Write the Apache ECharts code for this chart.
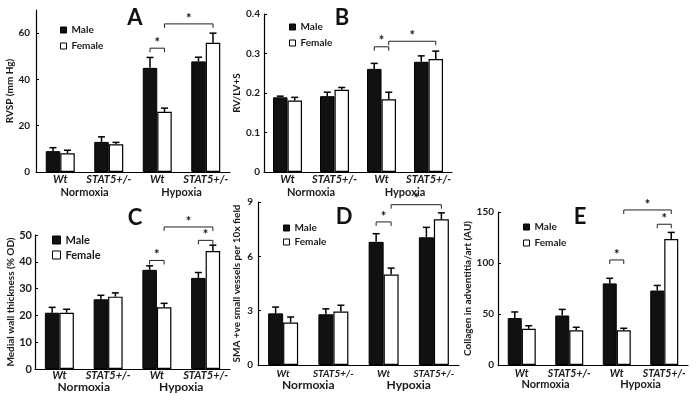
<!DOCTYPE html>
<html>
<head>
<meta charset="utf-8">
<script src="https://cdn.jsdelivr.net/npm/echarts@6/dist/echarts.min.js"></script>
<style>html,body{margin:0;padding:0;background:#fff}#c{width:699px;height:402px}</style>
</head>
<body>
<div id="c"></div>
<script>
// ---------- data ----------
const categories = ['Wt', 'STAT5+/-', 'Wt', 'STAT5+/-'];
const conditions = ['Normoxia', 'Hypoxia'];
const seriesNames = ['Male', 'Female'];
const panelLetters = ['A', 'B', 'C', 'D', 'E'];
const yTitles = ['RVSP (mm Hg)', 'RV/LV+S', 'Medial wall thickness (% OD)',
  'SMA +ve small vessels per 10x field', 'Collagen in adventitia/art (AU)'];

// A: RVSP
const maleA = [9, 13, 45, 47.8];
const maleErrA = [10.5, 15.2, 49.5, 49.6];
const femaleA = [8.1, 12, 26, 55.8];
const femaleErrA = [9.4, 12.8, 27.6, 60];
const sigA = [[2, 0, 2, 1, 53.5], [2, 1, 3, 1, 64]];

// B: RV/LV+S
const maleB = [0.189, 0.192, 0.261, 0.279];
const maleErrB = [0.192, 0.202, 0.275, 0.294];
const femaleB = [0.181, 0.208, 0.184, 0.286];
const femaleErrB = [0.189, 0.214, 0.202, 0.306];
const sigB = [[2, 0, 2, 1, 0.317], [2, 1, 3, 1, 0.331]];

// C: medial wall thickness
const maleC = [21, 26, 37, 34];
const maleErrC = [23, 27.5, 38.5, 36];
const femaleC = [21, 27, 23, 44];
const femaleErrC = [22.3, 28.4, 24.5, 46.2];
const sigC = [[2, 0, 2, 1, 40.5], [3, 0, 3, 1, 48], [2, 1, 3, 1, 53]];

// D: SMA +ve small vessels
const maleD = [2.85, 2.8, 6.8, 7.05];
const maleErrD = [3.2, 3.1, 7.25, 7.6];
const femaleD = [2.35, 2.95, 5.0, 8.05];
const femaleErrD = [2.65, 3.3, 5.35, 8.4];
const sigD = [[2, 0, 2, 1, 7.9], [2, 1, 3, 1, 8.85]];

// E: collagen
const maleE = [46, 48.5, 80, 73];
const maleErrE = [52, 54.5, 85, 78];
const femaleE = [35.5, 34, 34, 123.5];
const femaleErrE = [38.5, 37, 36, 130];
const sigE = [[2, 0, 2, 1, 103], [3, 0, 3, 1, 138], [2, 1, 3, 1, 152]];

const panelData = [
  {male: maleA, maleErr: maleErrA, female: femaleA, femaleErr: femaleErrA, sig: sigA},
  {male: maleB, maleErr: maleErrB, female: femaleB, femaleErr: femaleErrB, sig: sigB},
  {male: maleC, maleErr: maleErrC, female: femaleC, femaleErr: femaleErrC, sig: sigC},
  {male: maleD, maleErr: maleErrD, female: femaleD, femaleErr: femaleErrD, sig: sigD},
  {male: maleE, maleErr: maleErrE, female: femaleE, femaleErr: femaleErrE, sig: sigE}
];

// ---------- layout ----------
const FONT = 'Lato, "Open Sans", "DejaVu Sans", sans-serif';
const TXT = '#1a1a1a';
const layout = [
  {grid: {left: 36, top: 10, width: 194, height: 162}, max: 70, interval: 20, hideMax: true, bw: 14.5,
   nameGap: 19, yMargin: 6, yFont: 10, catFont: 11, catMargin: 2, grpFont: 11, grpMargin: 15,
   legend: {left: 60, top: 25, size: 6, gap: 6, font: 10, lh: 10}, letter: [135, 17.5]},
  {grid: {left: 264, top: 14, width: 188, height: 158}, max: 0.4, interval: 0.1, bw: 14.5,
   nameGap: 21, yMargin: 4, yFont: 10, catFont: 11, catMargin: 2, grpFont: 11, grpMargin: 15, dec: 1,
   legend: {left: 289, top: 22, size: 6, gap: 6, font: 10, lh: 10}, letter: [342, 18]},
  {grid: {left: 35, top: 235, width: 195, height: 134}, max: 50, interval: 10, bw: 14.5,
   nameGap: 16, yMargin: 3, yFont: 11, catFont: 11, catMargin: 1, grpFont: 12, grpMargin: 12,
   legend: {left: 52, top: 234, size: 8, gap: 3, font: 11, lh: 12}, letter: [135, 218]},
  {grid: {left: 258, top: 202, width: 201, height: 163}, max: 9, interval: 3, bw: 15,
   nameGap: 16, yMargin: 5, yFont: 10, catFont: 10, catMargin: 4, grpFont: 12, grpMargin: 14,
   legend: {left: 283, top: 223, size: 6, gap: 4, font: 10, lh: 10}, letter: [344, 217]},
  {grid: {left: 498, top: 212, width: 190, height: 153}, max: 150, interval: 50, bw: 14,
   nameGap: 22, yMargin: 4, yFont: 10, catFont: 10.5, catMargin: 3, grpFont: 11, grpMargin: 14,
   legend: {left: 523, top: 222, size: 6, gap: 6, font: 10, lh: 10}, letter: [580, 217]}
];

const MALE_STYLE = {color: '#111', borderColor: '#000', borderWidth: 1};
const FEMALE_STYLE = {color: '#fff', borderColor: '#000', borderWidth: 1.2};

const option = {
  animation: false,
  backgroundColor: '#fff',
  textStyle: {fontFamily: FONT, color: TXT},
  grid: [], xAxis: [], yAxis: [], series: [], legend: [], graphic: []
};

layout.forEach((L, p) => {
  const D = panelData[p];
  option.grid.push(Object.assign({containLabel: false}, L.grid));
  // category axis
  option.xAxis.push({
    type: 'category', gridIndex: p, data: categories,
    axisLine: {lineStyle: {color: '#000', width: 1.2}},
    axisTick: {inside: true, length: 3, lineStyle: {color: '#000'}},
    axisLabel: {fontFamily: FONT, fontStyle: 'italic', fontWeight: 'bold', fontSize: L.catFont, color: TXT, margin: L.catMargin, interval: 0}
  });
  // condition axis
  option.xAxis.push({
    type: 'category', gridIndex: p, data: conditions, position: 'bottom',
    axisLine: {show: false}, axisTick: {show: false},
    axisLabel: {fontFamily: FONT, fontWeight: 'bold', fontSize: L.grpFont, color: TXT, margin: L.grpMargin, interval: 0}
  });
  option.yAxis.push({
    type: 'value', gridIndex: p, min: 0, max: L.max, interval: L.interval,
    name: yTitles[p], nameLocation: 'middle', nameGap: L.nameGap,
    nameTextStyle: {fontFamily: FONT, fontSize: 10, fontWeight: 'bold', color: TXT},
    axisLine: {show: true, lineStyle: {color: '#000', width: 1.2}},
    axisTick: {show: true, inside: true, length: 3, lineStyle: {color: '#000'}},
    splitLine: {show: false},
    axisLabel: {fontFamily: FONT, fontWeight: 'bold', fontSize: L.yFont, color: TXT, margin: L.yMargin,
      showMaxLabel: !L.hideMax,
      formatter: v => v === 0 ? '0' : (L.dec ? v.toFixed(L.dec) : String(v))}
  });
  const xi = p * 2;
  option.series.push({
    type: 'bar', name: seriesNames[0], xAxisIndex: xi, yAxisIndex: p, data: D.male,
    barWidth: L.bw, barGap: '0%', itemStyle: MALE_STYLE
  });
  option.series.push({
    type: 'bar', name: seriesNames[1], xAxisIndex: xi, yAxisIndex: p, data: D.female,
    barWidth: L.bw, barGap: '0%', itemStyle: FEMALE_STYLE
  });
  // error bars
  const errData = [];
  D.male.forEach((v, i) => errData.push([i, v, D.maleErr[i], 0]));
  D.female.forEach((v, i) => errData.push([i, v, D.femaleErr[i], 1]));
  const bw = L.bw;
  option.series.push({
    type: 'custom', xAxisIndex: xi, yAxisIndex: p, data: errData, z: 5, silent: true,
    encode: {x: 0, y: [1, 2]},
    renderItem: (params, api) => {
      const c = api.value(0), v = api.value(1), e = api.value(2), s = api.value(3);
      const p0 = api.coord([c, v]), p1 = api.coord([c, e]);
      const x = p0[0] + (s === 0 ? -bw / 2 : bw / 2);
      const st = {stroke: '#000', lineWidth: 1.5};
      return {type: 'group', children: [
        {type: 'line', shape: {x1: x, y1: p0[1], x2: x, y2: p1[1]}, style: st},
        {type: 'line', shape: {x1: x - 3.5, y1: p1[1], x2: x + 3.5, y2: p1[1]}, style: st}
      ]};
    }
  });
  // significance brackets
  option.series.push({
    type: 'custom', xAxisIndex: xi, yAxisIndex: p, data: D.sig, z: 6, silent: true, clip: false,
    encode: {x: [0, 2], y: 4},
    renderItem: (params, api) => {
      const c1 = api.value(0), s1 = api.value(1), c2 = api.value(2), s2 = api.value(3), y = api.value(4);
      const a = api.coord([c1, y]), b = api.coord([c2, y]);
      const x1 = a[0] + (s1 === 0 ? -bw / 2 : bw / 2);
      const x2 = b[0] + (s2 === 0 ? -bw / 2 : bw / 2);
      const yy = a[1];
      return {type: 'group', children: [
        {type: 'polyline', shape: {points: [[x1, yy + 4], [x1, yy], [x2, yy], [x2, yy + 4]]},
         style: {stroke: '#222', lineWidth: 1, fill: null}},
        {type: 'text', style: {text: '*', x: (x1 + x2) / 2, y: yy + 1, align: 'center', verticalAlign: 'bottom',
          textAlign: 'center', textVerticalAlign: 'bottom', font: 'bold 13px ' + FONT, fill: '#111'}}
      ]};
    }
  });
  // legend
  const lg = L.legend;
  option.legend.push({
    left: lg.left, top: lg.top, orient: 'vertical', padding: 0, itemGap: lg.gap,
    itemWidth: lg.size, itemHeight: lg.size, icon: 'rect', selectedMode: false,
    textStyle: {fontFamily: FONT, fontSize: lg.font, fontWeight: 'bold', color: TXT, lineHeight: lg.lh},
    data: [
      {name: seriesNames[0], itemStyle: MALE_STYLE},
      {name: seriesNames[1], itemStyle: {color: '#fff', borderColor: '#000', borderWidth: 1}}
    ]
  });
  // panel letter
  option.graphic.push({
    type: 'text', x: L.letter[0], y: L.letter[1],
    style: {text: panelLetters[p], font: 'bold 22px ' + FONT, fill: '#111',
      align: 'center', verticalAlign: 'middle', textAlign: 'center', textVerticalAlign: 'middle'}
  });
});

const chart = echarts.init(document.getElementById('c'), null, {renderer: 'canvas'});
chart.setOption(option);
</script>
</body>
</html>
